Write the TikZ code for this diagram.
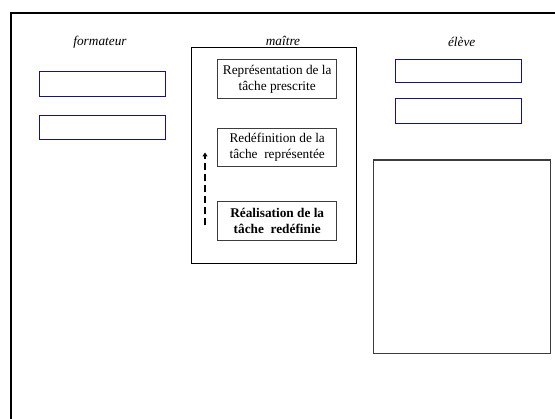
\documentclass[tikz,border=0pt]{standalone}
\usepackage{fontspec}
\setmainfont{Liberation Serif}
\usetikzlibrary{arrows.meta, positioning}
\definecolor{slotblue}{RGB}{20,20,128}
\definecolor{boxgrey}{RGB}{60,60,60}

\begin{document}
\begin{tikzpicture}[x=1pt, y=-1pt,
    role/.style={anchor=base, font=\fontsize{13.3}{16}\selectfont\itshape},
    slot/.style={draw=slotblue, line width=1pt, minimum width=125.7pt, inner sep=0pt},
    stagebox/.style={draw=boxgrey, line width=1pt, minimum width=118.5pt, minimum height=39pt,
      inner sep=0pt, align=center, font=\fontsize{13.3}{16}\selectfont}]
  \clip (0,0) rectangle (555,419);

  % outer frame (only top and left sides show)
  \draw[line width=2pt] (11,12.7) rectangle (580,440);

  % formateur
  \node[role] (formateur) at (100,45.5) {formateur};
  \node[slot, minimum height=25pt] (form1) at (102.8,84.5) {};
  \node[slot, minimum height=24.3pt] (form2) at (102.8,127.8) {};

  % maitre
  \node[draw, line width=0.8pt, minimum width=165pt, minimum height=216pt, inner sep=0pt] (maitre) at (274.2,155.3) {};
  \node[role] (maitrelbl) at (283,45.3) {maître};
  \node[stagebox] (prescrite) at (277.2,78.8) {Représentation de la\\tâche prescrite};
  \node[stagebox, minimum height=38.4pt] (representee) at (277.2,147.5) {Redéfinition de la\\tâche~~représentée};
  \node[stagebox, font=\fontsize{13.3}{16}\selectfont\bfseries] (redefinie) at (277.2,221.2) {Réalisation de la\\tâche~~redéfinie};

  % dashed arrow going up
  \coordinate (upfoot) at (205,225.5);
  \coordinate (uptop) at (205,152.5);
  \draw[line width=2pt, dash pattern=on 7pt off 4pt, -{Triangle[length=4pt, width=5pt]}] (upfoot) -- (uptop);

  % eleve
  \node[role] (eleve) at (461.7,46.5) {élève};
  \node[slot, minimum width=126pt, minimum height=23pt] (eleve1) at (458,70.8) {};
  \node[slot, minimum width=126pt, minimum height=25pt] (eleve2) at (458,110.8) {};
  \node[draw=boxgrey, line width=1.3pt, minimum width=177.4pt, minimum height=193.3pt, inner sep=0pt] (bigbox) at (462,256.7) {};
\end{tikzpicture}
\end{document}
